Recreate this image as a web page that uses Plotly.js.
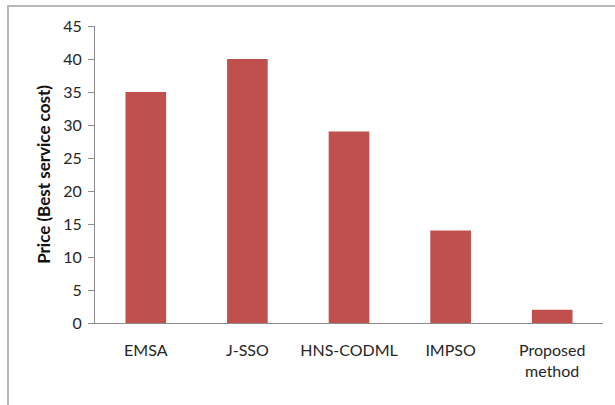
<!DOCTYPE html>
<html>
<head>
<meta charset="utf-8">
<script src="https://cdn.plot.ly/plotly-3.0.1.min.js"></script>
<style>
  html, body { margin: 0; padding: 0; background: #ffffff; }
  #wrap { position: relative; width: 615px; height: 405px; }
  #chart { width: 615px; height: 405px; }
  #frame {
    position: absolute; left: 7px; top: 5px; right: 0; bottom: 0;
    border-top: 2px solid #b8b8b8; border-left: 2px solid #b8b8b8;
    pointer-events: none;
  }
</style>
</head>
<body>
<div id="wrap">
  <div id="chart"></div>
  <div id="frame"></div>
</div>
<script>
// Best service cost per method
const methods = ["EMSA", "J-SSO", "HNS-CODML", "IMPSO", "Proposed<br>method"];
const prices = [35, 40, 29, 14, 2];
const yTicks = [0, 5, 10, 15, 20, 25, 30, 35, 40, 45];

const font = "Lato, 'Open Sans', sans-serif";

const trace = {
  type: "bar",
  x: methods,
  y: prices,
  marker: { color: "#C0504D" },
  width: 0.4,
  hoverinfo: "x+y"
};

const layout = {
  width: 615,
  height: 405,
  margin: { l: 95, r: 12, t: 26, b: 82 },
  paper_bgcolor: "#ffffff",
  plot_bgcolor: "#ffffff",
  showlegend: false,
  font: { family: font, size: 16, color: "#262626" },
  xaxis: {
    type: "category",
    showline: true,
    linecolor: "#8c8c8c",
    linewidth: 1,
    ticks: "",
    showgrid: false,
    zeroline: false,
    tickfont: { family: font, size: 16, color: "#262626" },
    ticklabelstandoff: 13,
    fixedrange: true
  },
  yaxis: {
    range: [0, 45],
    tickvals: yTicks,
    ticktext: yTicks.map(String),
    showline: true,
    linecolor: "#8c8c8c",
    linewidth: 1,
    ticks: "outside",
    ticklen: 6,
    tickcolor: "#8c8c8c",
    showgrid: false,
    zeroline: false,
    tickfont: { family: font, size: 16, color: "#262626" },
    ticklabelstandoff: 3,
    title: {
      text: "<b>Price (Best service cost)</b>",
      font: { family: font, size: 17, color: "#111111" },
      standoff: 8
    },
    fixedrange: true
  }
};

Plotly.newPlot("chart", [trace], layout, { displayModeBar: false, staticPlot: true });
</script>
</body>
</html>
